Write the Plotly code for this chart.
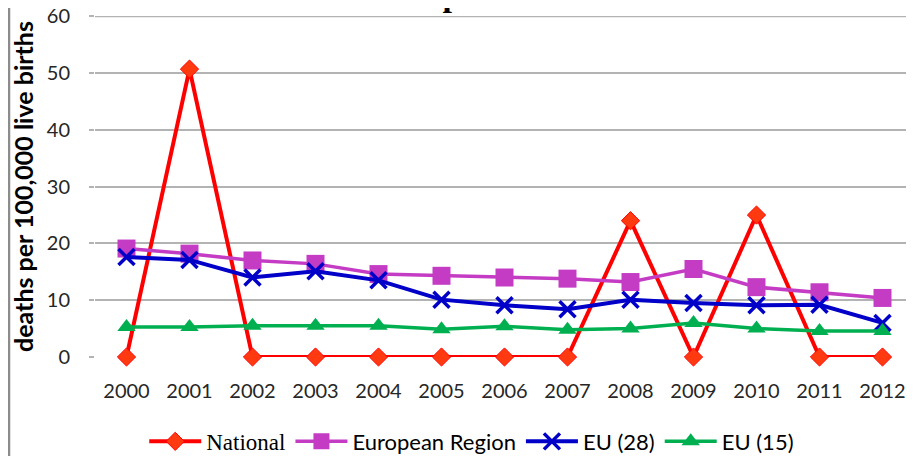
import plotly.graph_objects as go

years = ["2000", "2001", "2002", "2003", "2004", "2005", "2006",
         "2007", "2008", "2009", "2010", "2011", "2012"]
national = [0, 50.7, 0, 0, 0, 0, 0, 0, 24, 0, 25, 0, 0]
european_region = [19.1, 18.2, 17.0, 16.4, 14.6, 14.3, 14.0, 13.8, 13.2, 15.5, 12.3, 11.4, 10.4]
eu28 = [17.6, 17.1, 14.0, 15.1, 13.5, 10.1, 9.1, 8.4, 10.1, 9.5, 9.1, 9.2, 6.0]
eu15 = [5.3, 5.3, 5.5, 5.5, 5.5, 4.9, 5.4, 4.8, 5.0, 6.0, 5.0, 4.6, 4.6]
y_ticks = [0, 10, 20, 30, 40, 50, 60]

font = "Lato, Calibri, sans-serif"
grid = "#b3b3b3"

fig = go.Figure()

fig.add_trace(go.Scatter(
    x=years, y=national, mode="lines+markers", cliponaxis=False,
    name='<span style="font-family:Liberation Serif;font-size:23px">National</span>',
    line=dict(color="#ff0000", width=4),
    marker=dict(symbol="diamond", size=14, color="#ff3a10",
                line=dict(color="#ff0000", width=1))))

fig.add_trace(go.Scatter(
    x=years, y=european_region, mode="lines+markers", cliponaxis=False,
    name="European Region",
    line=dict(color="#c43cc4", width=3.5),
    marker=dict(symbol="square", size=18, color="#c43cc4")))

fig.add_trace(go.Scatter(
    x=years, y=eu28, mode="lines+markers", cliponaxis=False,
    name="EU (28)",
    line=dict(color="#0000c8", width=4),
    marker=dict(symbol="x-thin", size=16, color="#0000c8",
                line=dict(color="#0000c8", width=3.5))))

fig.add_trace(go.Scatter(
    x=years, y=eu15, mode="lines+markers", cliponaxis=False,
    name="EU (15)",
    line=dict(color="#00b050", width=3.5),
    marker=dict(symbol="triangle-up", size=16, color="#00b050")))

# top gridline (plotly drops the grid line sitting on the plot edge)
fig.add_hline(y=y_ticks[-1], line=dict(color=grid, width=2), layer="below")

# title mostly cut off at top of the image
fig.add_annotation(
    text="<b>Maternal deaths per 100 000 live births</b>",
    xref="paper", yref="paper", x=0.47, y=1.003, xanchor="center", yanchor="bottom",
    showarrow=False, font=dict(family="Liberation Serif, serif", size=34, color="#000000"))

# gray frame on the left
fig.add_shape(type="line", xref="paper", yref="paper",
              x0=-0.105, x1=-0.105, y0=-0.35, y1=1.1,
              line=dict(color="#8c8c8c", width=2.5))

fig.update_layout(
    width=914, height=456,
    margin=dict(l=87, r=8, t=8, b=107, autoexpand=False),
    paper_bgcolor="white", plot_bgcolor="white",
    font=dict(family=font, size=20, color="#262626"),
    showlegend=True,
    legend=dict(orientation="h", x=0.46, xanchor="center", y=-0.248, yanchor="middle",
                font=dict(family=font, size=22, color="#000000"),
                itemwidth=52, tracegroupgap=0),
    xaxis=dict(type="category", range=[-0.5, 12.5], showgrid=False, showline=False,
               zeroline=False, automargin=False, ticks="", ticklabelstandoff=20,
               tickfont=dict(family=font, size=20, color="#262626")),
    yaxis=dict(range=[0, 60.05], tickvals=y_ticks,
               showgrid=True, gridcolor=grid, gridwidth=2,
               zeroline=False, showline=False, ticks="outside", ticklen=5,
               tickcolor=grid, tickwidth=2, ticklabelstandoff=15,
               ticklabeloverflow="allow", automargin=False,
               tickfont=dict(family=font, size=20, color="#262626"),
               title=dict(text="<b>deaths per 100,000 live births</b>", standoff=6,
                          font=dict(family=font, size=25, color="#000000"))),
)

fig.write_html("out.html")
